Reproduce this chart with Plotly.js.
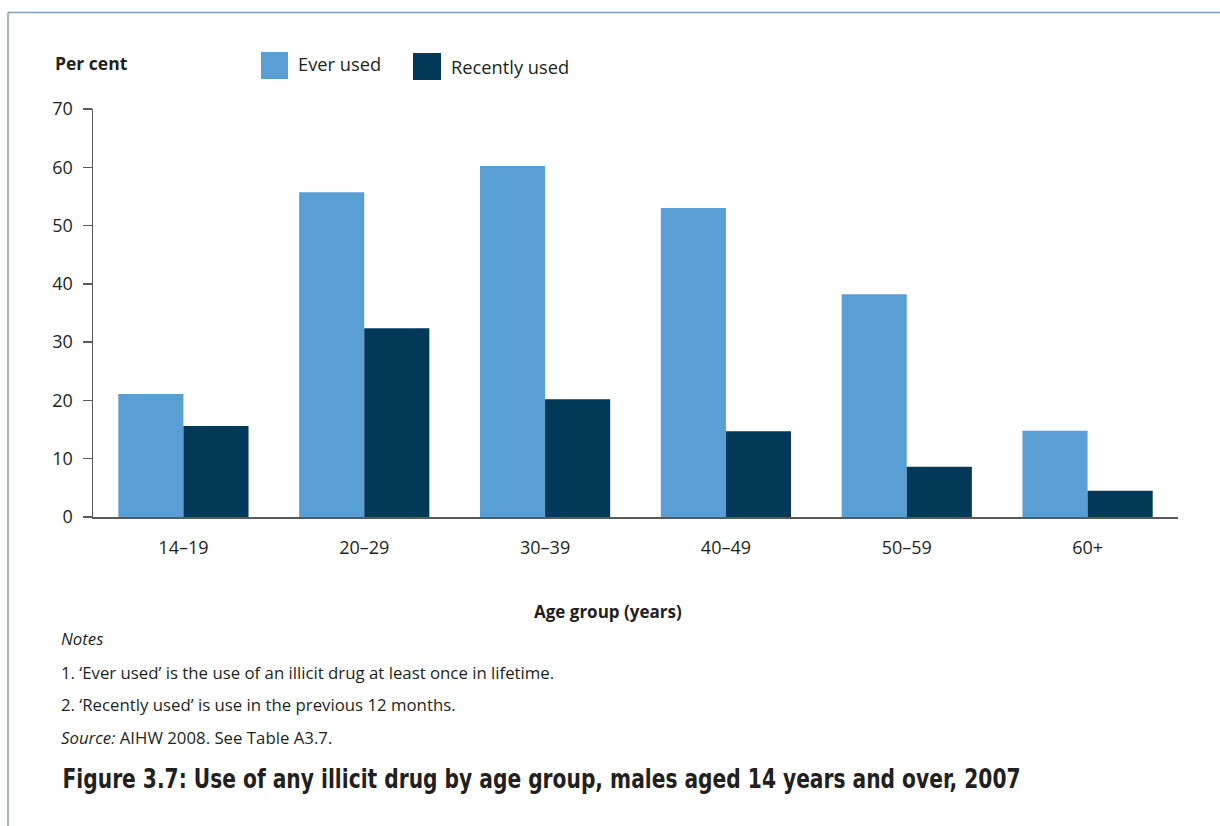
<!DOCTYPE html>
<html>
<head>
<meta charset="utf-8">
<script src="https://cdn.plot.ly/plotly-3.0.1.min.js"></script>
<style>
  html, body { margin: 0; padding: 0; background: #ffffff; }
  #chart { width: 1220px; height: 826px; }
</style>
</head>
<body>
<div id="chart"></div>
<script>
// Age groups and survey percentages (males aged 14+, 2007)
const ageGroups = ['14–19', '20–29', '30–39', '40–49', '50–59', '60+'];
const everUsed = [21.1, 55.7, 60.2, 53.0, 38.2, 14.8];
const recentlyUsed = [15.6, 32.4, 20.2, 14.7, 8.6, 4.5];

const seriesNames = ['Ever used', 'Recently used'];
const seriesColors = ['#5a9fd4', '#023858'];

const yTicks = [0, 10, 20, 30, 40, 50, 60, 70];

const notesLines = [
  '<i>Notes</i>',
  '1. ‘Ever used’ is the use of an illicit drug at least once in lifetime.',
  '2. ‘Recently used’ is use in the previous 12 months.',
  '<i>Source:</i> AIHW 2008. See Table A3.7.'
];
const figureTitle = 'Figure 3.7: Use of any illicit drug by age group, males aged 14 years and over, 2007';

// Page geometry (pixels)
const W = 1220, H = 826;
const M = { l: 93, r: 42, t: 109, b: 309 };
const PW = W - M.l - M.r, PH = H - M.t - M.b;
const px = x => (x - M.l) / PW;            // page x -> paper x
const py = y => (M.t + PH - y) / PH;       // page y -> paper y

const FONT = '"Open Sans", "Noto Sans", sans-serif';
const CONDENSED = '"Liberation Sans Narrow", "DejaVu Sans Condensed", sans-serif';
const TXT = '#231f20';
const AXIS = '#5a5a5a';
const FRAME = '#7f9fbb';

// Caption block: left edge and width of the condensed figure title
const TITLE_LEFT = 62, TITLE_WIDTH = 958;

const traces = [
  { type: 'bar', x: ageGroups, y: everUsed, name: seriesNames[0],
    marker: { color: seriesColors[0], line: { width: 0 } }, hoverinfo: 'x+y' },
  { type: 'bar', x: ageGroups, y: recentlyUsed, name: seriesNames[1],
    marker: { color: seriesColors[1], line: { width: 0 } }, hoverinfo: 'x+y' }
];

const noteFont = { size: 16.8, color: TXT, family: FONT };

const annotations = [
  { text: '<b>Per cent</b>', x: px(53), y: py(63), xanchor: 'left', yanchor: 'middle',
    font: { size: 17.5, color: TXT, family: FONT } },
  { text: seriesNames[0], x: px(296), y: py(64), xanchor: 'left', yanchor: 'middle',
    font: { size: 18.3, color: TXT, family: FONT } },
  { text: seriesNames[1], x: px(449), y: py(67), xanchor: 'left', yanchor: 'middle',
    font: { size: 18.3, color: TXT, family: FONT } },
  { text: '<b>Age group (years)</b>', x: px(608), y: py(611), xanchor: 'center', yanchor: 'middle',
    font: { size: 17, color: TXT, family: FONT } },
  { text: notesLines[0], x: px(59), y: py(638), xanchor: 'left', yanchor: 'middle', font: noteFont },
  { text: notesLines[1], x: px(59), y: py(672), xanchor: 'left', yanchor: 'middle', font: noteFont },
  { text: notesLines[2], x: px(59), y: py(704), xanchor: 'left', yanchor: 'middle', font: noteFont },
  { text: notesLines[3], x: px(59), y: py(737), xanchor: 'left', yanchor: 'middle', font: noteFont },
  { text: figureTitle, x: px(TITLE_LEFT + TITLE_WIDTH / 2), y: py(778), xanchor: 'center', yanchor: 'middle',
    font: { size: 27, color: TXT, weight: 700, family: CONDENSED } }
].map(a => Object.assign({ xref: 'paper', yref: 'paper', showarrow: false }, a));

const shapes = [
  // legend swatches
  { type: 'rect', x0: px(261), x1: px(288), y0: py(79), y1: py(52),
    fillcolor: seriesColors[0], line: { width: 0 } },
  { type: 'rect', x0: px(413), x1: px(441), y0: py(80), y1: py(53),
    fillcolor: seriesColors[1], line: { width: 0 } },
  // page frame: top and left rules
  { type: 'line', x0: px(8), x1: px(1225), y0: py(12.5), y1: py(12.5),
    line: { color: FRAME, width: 1.5 } },
  { type: 'line', x0: px(8), x1: px(8), y0: py(12.5), y1: py(830),
    line: { color: FRAME, width: 1.5 } }
].map(s => Object.assign({ xref: 'paper', yref: 'paper' }, s));

const layout = {
  width: W, height: H,
  margin: M,
  paper_bgcolor: '#ffffff', plot_bgcolor: '#ffffff',
  showlegend: false,
  barmode: 'group',
  bargap: 0.28,
  bargroupgap: 0,
  font: { family: FONT, color: TXT, size: 18 },
  xaxis: {
    type: 'category',
    range: [-0.5, ageGroups.length - 0.5],
    showline: true, linecolor: AXIS, linewidth: 1.5,
    ticks: '', showgrid: false, zeroline: false,
    ticklabelstandoff: 14,
    tickfont: { size: 18, color: TXT, family: FONT },
    fixedrange: true
  },
  yaxis: {
    range: [0, 70],
    tickvals: yTicks,
    ticktext: yTicks.map(String),
    showline: true, linecolor: AXIS, linewidth: 1.5,
    ticks: 'outside', ticklen: 9, tickwidth: 1.5, tickcolor: AXIS,
    ticklabelstandoff: 6,
    showgrid: false, zeroline: false,
    tickfont: { size: 18, color: TXT, family: FONT },
    fixedrange: true
  },
  annotations: annotations,
  shapes: shapes
};

Plotly.newPlot('chart', traces, layout, { displayModeBar: false, staticPlot: true }).then(gd => {
  // Fit the bold caption into a condensed run of fixed width
  gd.querySelectorAll('.annotation-text').forEach(t => {
    if (t.textContent === figureTitle) {
      t.setAttribute('textLength', TITLE_WIDTH);
      t.setAttribute('lengthAdjust', 'spacingAndGlyphs');
    }
  });
});
</script>
</body>
</html>
